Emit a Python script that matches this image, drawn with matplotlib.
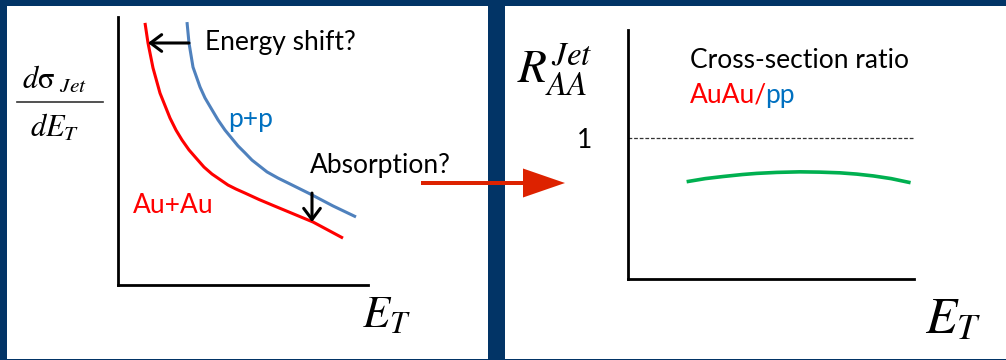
"""
Jet quenching sketch: dsigma/dE_T for p+p vs Au+Au, and the ratio R_AA.
"""
import matplotlib
matplotlib.use("Agg")
import matplotlib.pyplot as plt
from matplotlib.patches import Rectangle

plt.rcParams["mathtext.fontset"] = "stix"
plt.rcParams["font.family"] = ["Lato", "DejaVu Sans"]

W, H = 1006, 360

NAVY = "#023466"
BLUE_LINE = "#4f81bd"
BLUE_TEXT = "#0070c0"
RED = "#ff0000"
GREEN = "#00b050"
ARROW_RED = "#dd2200"

# left panel: spectra (arbitrary units)
pp_x = [2.76, 2.84, 3.00, 3.28, 3.48, 3.72, 4.00, 4.28, 4.80, 5.08, 5.36,
        5.96, 6.40, 6.88, 7.68, 8.60, 9.52]
pp_y = [9.81, 9.03, 8.13, 7.39, 6.98, 6.60, 6.16, 5.78, 5.19, 4.93, 4.66,
        4.22, 3.99, 3.77, 3.40, 2.95, 2.54]
auau_x = [1.08, 1.20, 1.40, 1.68, 2.08, 2.32, 2.56, 2.84, 3.12, 3.44, 3.76,
          4.40, 4.72, 5.08, 5.64, 6.20, 7.80, 9.00]
auau_y = [9.78, 9.03, 8.10, 7.16, 6.23, 5.78, 5.41, 5.04, 4.74, 4.40, 4.14,
          3.73, 3.58, 3.43, 3.19, 2.97, 2.35, 1.75]

# absorption arrow position
absorb_x = 7.76
absorb_top = 3.43

# right panel: ratio
raa_x = [2.05, 2.70, 3.33, 4.00, 4.50, 5.20, 6.01, 6.70, 7.41, 8.00, 8.58, 9.20, 9.88]
raa_y = [0.690, 0.712, 0.727, 0.741, 0.749, 0.756, 0.760, 0.758, 0.753, 0.744,
         0.731, 0.712, 0.683]


def px_axes(fig, x0, y_top, x1, y_bot, **kw):
    return fig.add_axes([x0 / W, 1 - y_bot / H, (x1 - x0) / W, (y_bot - y_top) / H], **kw)


def style_axes(ax):
    ax.set_facecolor("none")
    for side in ("top", "right"):
        ax.spines[side].set_visible(False)
    for side in ("left", "bottom"):
        ax.spines[side].set_linewidth(2.0)
        ax.spines[side].set_color("black")
    ax.set_xticks([])
    ax.set_yticks([])


fig = plt.figure(figsize=(W / 100, H / 100), dpi=100)
fig.patch.set_facecolor(NAVY)

# white slides
bg = fig.add_axes([0, 0, 1, 1], zorder=-1)
bg.set_xlim(0, W)
bg.set_ylim(H, 0)
bg.axis("off")
bg.add_patch(Rectangle((7, 6), 481, 353, facecolor="white", edgecolor="none"))
bg.add_patch(Rectangle((505, 6), 501, 353, facecolor="white", edgecolor="none"))

# ---- left panel ----
ax1 = px_axes(fig, 118, 17, 368, 285, zorder=1)
style_axes(ax1)
ax1.set_xlim(0, 10)
ax1.set_ylim(0, 10)
ax1.plot(pp_x, pp_y, color=BLUE_LINE, lw=2.2, solid_capstyle="butt",
         solid_joinstyle="round")
ax1.plot(auau_x, auau_y, color=RED, lw=2.2, solid_capstyle="butt",
         solid_joinstyle="round")
arrow_kw = dict(arrowstyle="->,head_length=0.4,head_width=0.3",
                lw=2.2, color="black", mutation_scale=20, shrinkA=0, shrinkB=0)
ax1.annotate("", xy=(auau_x[1], auau_y[1]), xytext=(pp_x[1], pp_y[1]),
             arrowprops=arrow_kw)
ax1.annotate("", xy=(absorb_x, auau_y[-2]), xytext=(absorb_x, absorb_top),
             arrowprops=arrow_kw)

# ---- right panel ----
ax2 = px_axes(fig, 628, 30, 914, 279, zorder=1)
style_axes(ax2)
ax2.set_xlim(0, 10)
ax2.set_ylim(0, 1.766)
ax2.axhline(1, color="#333333", lw=0.9, dashes=(3, 1.5))
ax2.plot(raa_x, raa_y, color=GREEN, lw=2.6, solid_capstyle="butt",
         solid_joinstyle="round")
ax2.set_yticks([1])
ax2.set_yticklabels(["1"])
ax2.tick_params(axis="y", length=0, pad=26, labelsize=19)

# ---- overlay: labels and the big arrow ----
ov = fig.add_axes([0, 0, 1, 1], zorder=5)
ov.set_xlim(0, W)
ov.set_ylim(H, 0)
ov.axis("off")

TXT = 19
ov.text(205, 50, "Energy shift?", fontsize=TXT, va="baseline")
ov.text(228, 127, "p+p", fontsize=TXT, color=BLUE_TEXT, va="baseline")
ov.text(133, 213, "Au+Au", fontsize=TXT, color=RED, va="baseline")
ov.text(310, 173, "Absorption?", fontsize=TXT, va="baseline")
ov.text(690, 68, "Cross-section ratio", fontsize=TXT, va="baseline")
t1 = ov.text(690, 103, "AuAu/", fontsize=TXT, color=RED, va="baseline")
ov.annotate("pp", xy=(1, 0), xycoords=t1, xytext=(-1.5, 0),
            textcoords="offset points", va="bottom", ha="left",
            fontsize=TXT, color=BLUE_TEXT)

# y label of left panel as a fraction
ov.text(22, 88, r"$d\mathrm{\sigma}_{\ Jet}$", fontsize=22, va="baseline")
ov.plot([17, 103], [102, 102], color="#333333", lw=1.2)
ov.text(30, 137, r"$dE_T$", fontsize=22, va="baseline")

ov.text(362, 327, r"$E_T$", fontsize=32, va="baseline")
ov.text(517, 83, r"$R^{Jet}_{AA}$", fontsize=34, va="baseline")
ov.text(925, 333, r"$E_T$", fontsize=37, va="baseline")

ov.arrow(421, 183, 144, 0, width=4, head_width=29, head_length=42,
         length_includes_head=True, fc=ARROW_RED, ec="none")

fig.savefig("out.png", dpi=100, facecolor=fig.get_facecolor())
